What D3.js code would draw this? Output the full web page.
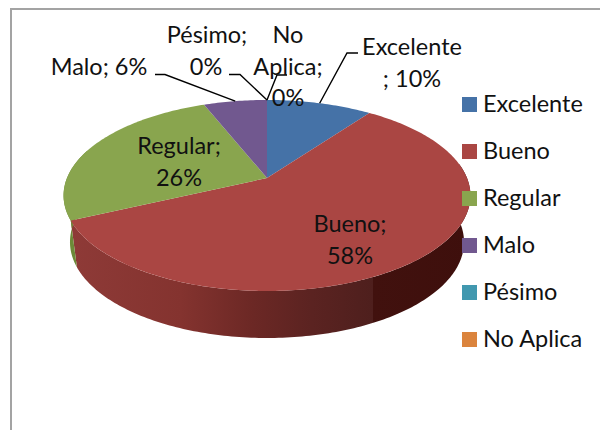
<!DOCTYPE html>
<html>
<head>
<meta charset="utf-8">
<script src="https://cdn.jsdelivr.net/npm/d3@7"></script>
<style>
body { margin: 0; background: #fff; }
text { font-family: Lato, "Open Sans", sans-serif; font-size: 23.5px; fill: #111; }
</style>
</head>
<body>
<div id="chart"></div>
<script>
// Survey result, 3D pie
const categories = ['Excelente', 'Bueno', 'Regular', 'Malo', 'Pésimo', 'No Aplica'];
const values = [10, 58, 26, 6, 0, 0];
const colors = ['#4572a7', '#aa4643', '#89a54e', '#71588f', '#4198af', '#db843d'];
const sideColors = ['#355a85', 'url(#redSide)', '#6c8a38', '#584570', '#33798c', '#ad672d'];

// Label lines per slice, wrapped like the original
const labelLines = [
    ['Excelente', '; 10%'],
    ['Bueno;', '58%'],
    ['Regular;', '26%'],
    ['Malo; 6%'],
    ['Pésimo;', '0%'],
    ['No', 'Aplica;', '0%']
];
const labelPos = [[412, 55], [350, 232], [179, 154], [99, 75], [207, 43], [288, 43]];
const lineHeight = 31.5;
// Leader line start and elbow x, y for the outside labels
const leaders = [[358, 347, 53], null, null, [155, 165, 74.5], [229, 240, 74.5], [287, 277, 75]];

const width = 600, height = 430;

var svg = d3.select('#chart').append('svg')
    .attr('width', width)
    .attr('height', height)
    .style('display', 'block');

// Perspective projection of the pie disc, theta is clockwise from the top
const tilt = 0.183;
function project(theta, p) {
    var X = Math.sin(theta), Y = -Math.cos(theta);
    var w = 1 - tilt * Y;
    return [p.x + p.a * X / w, p.y + p.b * Y / w];
}
const topDisc = {x: 267, y: 178, a: 200, b: 92.3};
const bottomDisc = {x: 267, y: 224.4, a: 193.7, b: 92.8};

var pie = d3.pie().sort(null).value(function(d) { return d; });
var slices = pie(values);
var line = d3.line();

function rim(start, end, disc) {
    var n = Math.max(2, Math.ceil((end - start) * 60));
    return d3.range(n + 1).map(function(i) {
        return project(start + (end - start) * i / n, disc);
    });
}

// Gradient for the front wall of the big slice
var stops = [[0, '#8e3a37'], [0.27, '#84332f'], [0.45, '#6c2825'], [0.6, '#5b2321'], [0.755, '#4e1f1d'],
    [0.755, '#41110e'], [1, '#3e0f0c']];
var grad = svg.append('defs').append('linearGradient')
    .attr('id', 'redSide')
    .attr('gradientUnits', 'userSpaceOnUse')
    .attr('x1', 73).attr('x2', 471).attr('y1', 0).attr('y2', 0);
grad.selectAll('stop').data(stops).enter().append('stop')
    .attr('offset', function(d) { return d[0]; })
    .attr('stop-color', function(d) { return d[1]; });

// Frame, only top and left show in the crop
svg.append('path')
    .attr('d', line([[11, height], [11, 9], [width, 9]]))
    .attr('fill', 'none')
    .attr('stroke', '#a3a3a3')
    .attr('stroke-width', 2);

// Walls first, the top disc is painted over them
const frontStart = Math.PI * 0.45, frontEnd = Math.PI * 1.6;
slices.forEach(function(s, i) {
    var a = Math.max(s.startAngle, frontStart), b = Math.min(s.endAngle, frontEnd);
    if (b <= a) return;
    var pts = rim(a, b, topDisc).concat(rim(a, b, bottomDisc).reverse());
    svg.append('path')
        .attr('d', line(pts) + 'Z')
        .attr('fill', sideColors[i]);
});

svg.selectAll('.slice')
    .data(slices)
    .enter()
    .append('path')
    .attr('class', 'slice')
    .attr('fill', function(d, i) { return colors[i]; })
    .attr('d', function(d) {
        return line([[topDisc.x, topDisc.y]].concat(rim(d.startAngle, d.endAngle, topDisc))) + 'Z';
    });

// Leader lines go to the middle of the slice on the rim
slices.forEach(function(s, i) {
    if (!leaders[i]) return;
    var l = leaders[i];
    var end = project((s.startAngle + s.endAngle) / 2, topDisc);
    svg.append('path')
        .attr('d', line([[l[0], l[2]], [l[1], l[2]], end]))
        .attr('fill', 'none')
        .attr('stroke', '#000')
        .attr('stroke-width', 1.4);
});

// Data labels
labelLines.forEach(function(lines, i) {
    var t = svg.append('text').attr('text-anchor', 'middle');
    lines.forEach(function(str, j) {
        t.append('tspan')
            .attr('x', labelPos[i][0] + (i == 4 && j == 1 ? -1 : 0))
            .attr('y', labelPos[i][1] + j * lineHeight)
            .text(str);
    });
});

// Legend
var legendY = d3.scalePoint().domain(categories).range([97, 332]);
var legend = svg.selectAll('.legend')
    .data(categories)
    .enter()
    .append('g')
    .attr('class', 'legend')
    .attr('transform', function(d) { return 'translate(462,' + legendY(d) + ')'; });
legend.append('rect')
    .attr('width', 15)
    .attr('height', 15)
    .attr('fill', function(d, i) { return colors[i]; });
legend.append('text')
    .attr('x', 21)
    .attr('y', 15)
    .text(function(d) { return d; });
</script>
</body>
</html>
